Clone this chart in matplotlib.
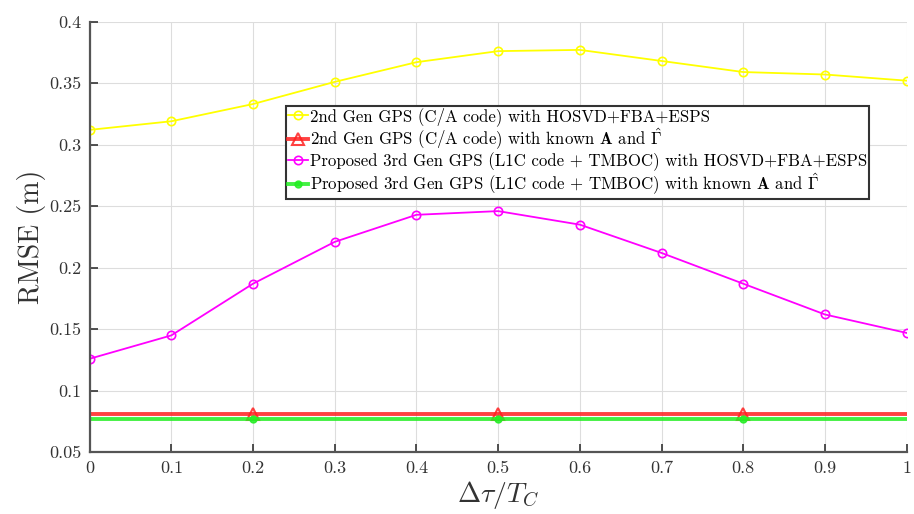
import matplotlib
matplotlib.use("Agg")
import matplotlib.pyplot as plt

# Данные
dtau = [0, 0.1, 0.2, 0.3, 0.4, 0.5, 0.6, 0.7, 0.8, 0.9, 1.0]
rmse_2nd_hosvd = [0.312, 0.319, 0.333, 0.351, 0.367, 0.376, 0.377, 0.368, 0.359, 0.357, 0.352]
rmse_2nd_known = [0.081] * 11
rmse_3rd_hosvd = [0.126, 0.145, 0.187, 0.221, 0.243, 0.246, 0.235, 0.212, 0.187, 0.162, 0.147]
rmse_3rd_known = [0.077] * 11

labels = [
    "2nd Gen GPS (C/A code) with HOSVD+FBA+ESPS",
    r"2nd Gen GPS (C/A code) with known $\mathbf{A}$ and $\hat{\mathbf{\Gamma}}$",
    "Proposed 3rd Gen GPS (L1C code + TMBOC) with HOSVD+FBA+ESPS",
    r"Proposed 3rd Gen GPS (L1C code + TMBOC) with known $\mathbf{A}$ and $\hat{\mathbf{\Gamma}}$",
]
xticks = [0, 0.1, 0.2, 0.3, 0.4, 0.5, 0.6, 0.7, 0.8, 0.9, 1]
yticks = [0.05, 0.1, 0.15, 0.2, 0.25, 0.3, 0.35, 0.4]

plt.rcParams["font.family"] = "serif"
plt.rcParams["font.serif"] = ["cmr10", "DejaVu Serif"]
plt.rcParams["mathtext.fontset"] = "cm"
plt.rcParams["axes.formatter.use_mathtext"] = True

fig = plt.figure(figsize=(9.14, 5.14), dpi=100)
ax = fig.add_axes([0.098, 0.12, 0.894, 0.838])

ax.plot(dtau, rmse_2nd_hosvd, color="#FFFF00", lw=1.3, marker="o", ms=6,
        mfc="none", mew=1.2, label=labels[0])
ax.plot(dtau, rmse_2nd_known, color="#FF2020", lw=2.8, marker="^", ms=8,
        mfc="none", mew=1.5, markevery=[2, 5, 8], label=labels[1], alpha=0.85)
ax.plot(dtau, rmse_3rd_hosvd, color="#FF00FF", lw=1.3, marker="o", ms=6,
        mfc="none", mew=1.2, label=labels[2])
ax.plot(dtau, rmse_3rd_known, color="#22EE22", lw=2.8, marker="o", ms=5,
        markevery=[2, 5, 8], label=labels[3], alpha=0.85)

ax.set_xlim(0, 1)
ax.set_ylim(0.05, 0.4)
ax.set_xticks(xticks)
ax.set_xticklabels(["0", "0.1", "0.2", "0.3", "0.4", "0.5", "0.6", "0.7", "0.8", "0.9", "1"])
ax.set_yticks(yticks)
ax.set_yticklabels(["0.05", "0.1", "0.15", "0.2", "0.25", "0.3", "0.35", "0.4"])
ax.tick_params(direction="in", length=6, width=1.2, labelsize=13, colors="#333333",
               labelcolor="#333333", pad=6)
ax.grid(True, color="#dddddd", lw=0.8)
ax.spines["top"].set_visible(False)
ax.spines["right"].set_visible(False)
ax.spines["left"].set_linewidth(1.6)
ax.spines["bottom"].set_linewidth(1.6)
ax.spines["left"].set_color("#555555")
ax.spines["bottom"].set_color("#555555")

ax.set_xlabel(r"$\Delta\tau/T_C$", fontsize=20, color="#333333", labelpad=2)
ax.set_ylabel("RMSE (m)", fontsize=20, color="#333333", labelpad=2)

leg = ax.legend(loc="upper left", bbox_to_anchor=(0.241, 0.805), fontsize=12.1,
                handlelength=1.2, handletextpad=0.1, borderpad=0.1,
                labelspacing=0.02, borderaxespad=0, fancybox=False, framealpha=1)
leg.get_frame().set_edgecolor("#333333")
leg.get_frame().set_linewidth(1.5)

fig.savefig("out.png", dpi=100)
